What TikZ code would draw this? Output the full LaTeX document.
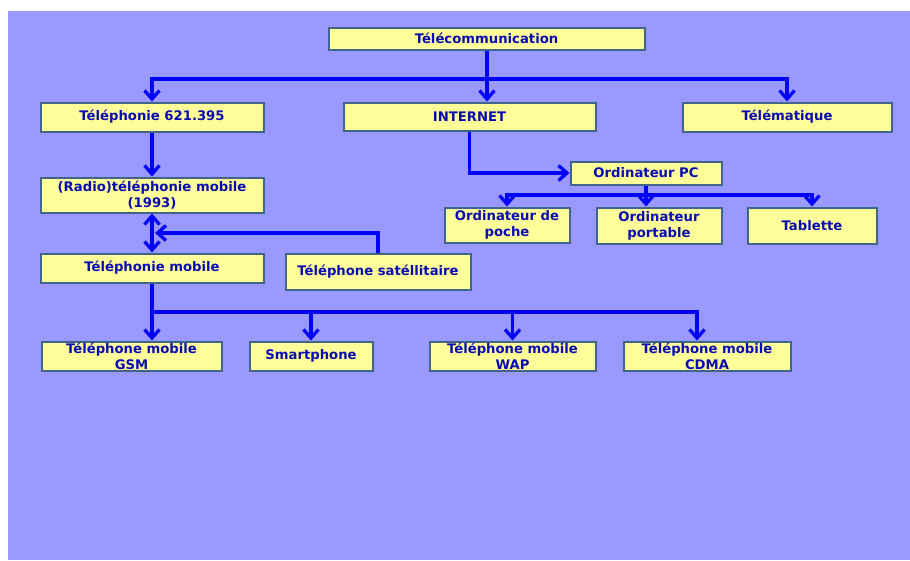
\documentclass[tikz,border=0pt]{standalone}
\usepackage{fontspec}
\setmainfont{DejaVu Sans}
\usetikzlibrary{arrows.meta}
\definecolor{bgpurple}{RGB}{153,153,255}
\definecolor{boxfill}{RGB}{255,255,153}
\definecolor{boxline}{RGB}{65,100,138}
\definecolor{txtcol}{RGB}{10,10,180}
\definecolor{arrcol}{RGB}{0,0,255}
\tikzset{
  box/.style={draw=boxline, fill=boxfill, line width=2pt, inner sep=0pt, rectangle},
  txt/.style={text=txtcol, font=\bfseries\fontsize{13.2}{16}\selectfont, align=center, inner sep=0pt},
  conn/.style={draw=arrcol, line width=3.3pt},
  arr/.style={conn, -{Straight Barb[length=8.5pt,width=15pt]}},
  darr/.style={conn, {Straight Barb[length=8.5pt,width=15pt]}-{Straight Barb[length=8.5pt,width=15pt]}}
}
\begin{document}
\begin{tikzpicture}[x=1pt,y=-1pt]
\useasboundingbox (0,0) rectangle (910,560);
\fill[white] (0,0) rectangle (910,560);
\fill[bgpurple] (8,11) rectangle (910,560);

% boxes
\node[box, minimum width=316pt, minimum height=22pt] (tele) at (486.5,38.5) {};
\node[txt] (tele-t) at (tele) {Télécommunication};
\node[box, minimum width=223pt, minimum height=29pt] (telph) at (152,117) {};
\node[txt] (telph-t) at (telph) {Téléphonie 621.395};
\node[box, minimum width=252pt, minimum height=28pt] (inet) at (469.5,116.5) {};
\node[txt] (inet-t) at (inet) {INTERNET};
\node[box, minimum width=209pt, minimum height=29pt] (telem) at (787,117) {};
\node[txt] (telem-t) at (telem) {Télématique};
\node[box, minimum width=151pt, minimum height=23pt] (pc) at (646,173) {};
\node[txt] (pc-t) at (pc) {Ordinateur PC};
\node[box, minimum width=125pt, minimum height=35pt] (poche) at (507,225) {};
\node[txt] (poche-t) at (poche) {Ordinateur de\\poche};
\node[box, minimum width=125pt, minimum height=36pt] (port) at (659,225.5) {};
\node[txt] (port-t) at (port) {Ordinateur\\portable};
\node[box, minimum width=129pt, minimum height=36pt] (tab) at (812,225.5) {};
\node[txt] (tab-t) at (tab) {Tablette};
\node[box, minimum width=223pt, minimum height=35pt] (radio) at (152,195) {};
\node[txt] (radio-t) at (radio) {(Radio)téléphonie mobile\\(1993)};
\node[box, minimum width=223pt, minimum height=29pt] (mob) at (152,268) {};
\node[txt] (mob-t) at (mob) {Téléphonie mobile};
\node[box, minimum width=185pt, minimum height=36pt] (sat) at (378,271.5) {};
\node[txt] (sat-t) at (sat) {Téléphone satéllitaire};
\node[box, minimum width=180pt, minimum height=29pt] (gsm) at (131.5,356) {};
\node[txt] (gsm-t) at (131.5,356) {Téléphone mobile\\GSM};
\node[box, minimum width=123pt, minimum height=29pt] (smart) at (311,356) {};
\node[txt] (smart-t) at (smart) {Smartphone};
\node[box, minimum width=166pt, minimum height=29pt] (wap) at (512.5,356) {};
\node[txt] (wap-t) at (512.5,356) {Téléphone mobile\\WAP};
\node[box, minimum width=167pt, minimum height=29pt] (cdma) at (707,356) {};
\node[txt] (cdma-t) at (707,356) {Téléphone mobile\\CDMA};

% junction coordinates
\coordinate (b1) at (487,79);
\coordinate (j2) at (155,233);
\coordinate (b3) at (646,195);
\coordinate (b4) at (152,312);
\coordinate (b5) at (697,312);

% connectors
\draw[conn] (tele.south -| b1) -- (b1);
\draw[arr] (b1) -| (telph.north);
\draw[arr] (b1) -- (b1 |- inet.north);
\draw[arr] (b1) -| (telem.north);
\draw[arr] (telph.south) -- (radio.north);
\draw[darr] (radio.south) -- (mob.north);
\draw[arr] (sat.north) |- (j2);
\draw[arr] (inet.south) |- (pc.west);
\draw[conn] (pc.south -| b3) -- (b3);
\draw[arr] (b3) -| (poche.north);
\draw[arr] (b3) -- (b3 |- port.north);
\draw[arr] (b3) -| (tab.north);
\draw[conn] (mob.south) -- (b4);
\draw[arr] (b4) -- (b4 |- gsm.north);
\draw[arr] (b4) -| (smart.north);
\draw[arr] (b4) -| (wap.north);
\draw[arr] (b4) -- (b5) -- (b5 |- cdma.north);
\end{tikzpicture}
\end{document}
